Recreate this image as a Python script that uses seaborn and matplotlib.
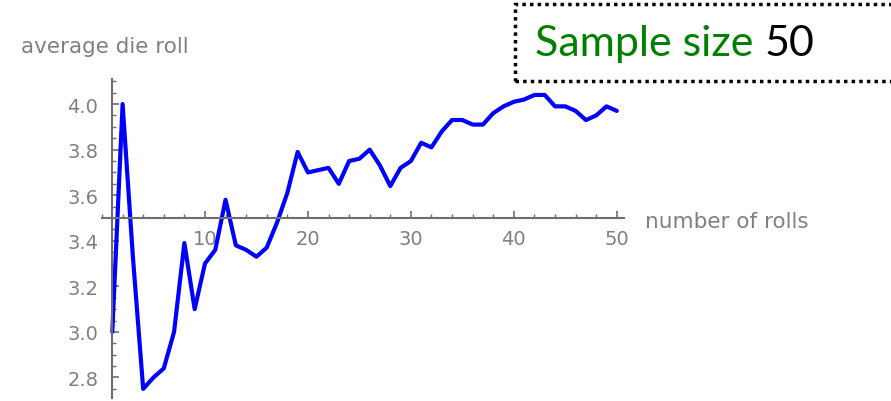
import numpy as np
import pandas as pd
import seaborn as sns
import matplotlib.pyplot as plt
from matplotlib.patches import Rectangle
from matplotlib.ticker import MultipleLocator

# --- data ---
rolls = list(range(1, 51))
avg_roll = [
    3.00, 4.00, 3.33, 2.75, 2.80, 2.84, 3.00, 3.39, 3.10, 3.30,
    3.36, 3.58, 3.38, 3.36, 3.33, 3.37, 3.48, 3.61, 3.79, 3.70,
    3.71, 3.72, 3.65, 3.75, 3.76, 3.80, 3.73, 3.64, 3.72, 3.75,
    3.83, 3.81, 3.88, 3.93, 3.93, 3.91, 3.91, 3.96, 3.99, 4.01,
    4.02, 4.04, 4.04, 3.99, 3.99, 3.97, 3.93, 3.95, 3.99, 3.97,
]
x_ticks = [10, 20, 30, 40, 50]
y_ticks = [2.8, 3.0, 3.2, 3.4, 3.6, 3.8, 4.0]

df = pd.DataFrame({'rolls': rolls, 'avg': avg_roll})

sns.set_style('white')
plt.rcParams['font.family'] = ['DejaVu Sans']

fig = plt.figure(figsize=(8.91, 4.02), dpi=100)
ax = fig.add_axes([102 / 891, 3 / 402, 522 / 891, 319 / 402])

sns.lineplot(data=df, x='rolls', y='avg', color='#0000ff', linewidth=3, ax=ax)

ax.set_xlim(0, 50.7)
ax.set_ylim(2.71, 4.11)

# Mathematica style axes crossing at (1, 3.5)
axis_col = '#6e6e6e'
for s in ['top', 'right']:
    ax.spines[s].set_visible(False)
ax.spines['left'].set_position(('data', 1))
ax.spines['bottom'].set_position(('data', 3.5))
for s in ['left', 'bottom']:
    ax.spines[s].set_color(axis_col)
    ax.spines[s].set_linewidth(1.5)

ax.set_xticks(x_ticks)
ax.set_yticks(y_ticks)
ax.set_yticklabels([f'{v:.1f}' for v in y_ticks])
ax.xaxis.set_minor_locator(MultipleLocator(2))
ax.yaxis.set_minor_locator(MultipleLocator(0.05))
ax.tick_params(which='both', direction='in', colors=axis_col, labelcolor='#808080',
               labelsize=14, left=True, bottom=True)
ax.tick_params(which='major', length=5, width=1.2)
ax.tick_params(which='minor', length=3, width=1.0)
ax.tick_params(axis='y', pad=10)
ax.tick_params(axis='x', pad=8)

ax.set_xlabel('')
ax.set_ylabel('')
fig.text(21 / 891, 1 - 47 / 402, 'average die roll', fontsize=15.5, color='#808080',
         va='center', ha='left')
fig.text(645 / 891, 1 - 222 / 402, 'number of rolls', fontsize=15.5, color='#808080',
         va='center', ha='left')

# dotted box with the sample size
box = Rectangle((515 / 891, 1 - 82 / 402), 380 / 891, 77 / 402, transform=fig.transFigure,
                fill=False, edgecolor='black', linestyle=(0, (1, 1.2)), linewidth=2.5,
                clip_on=False)
fig.patches.append(box)
t1 = fig.text(535 / 891, 1 - 44 / 402, 'Sample size ', fontsize=31, color='#008000',
              va='center', ha='left', family=['Lato', 'DejaVu Sans'])
ax.annotate('50', xy=(1, 0.5), xycoords=t1, va='center', ha='left', fontsize=31,
            color='black', family=['Lato', 'DejaVu Sans'])

fig.savefig('out.png', dpi=100)
